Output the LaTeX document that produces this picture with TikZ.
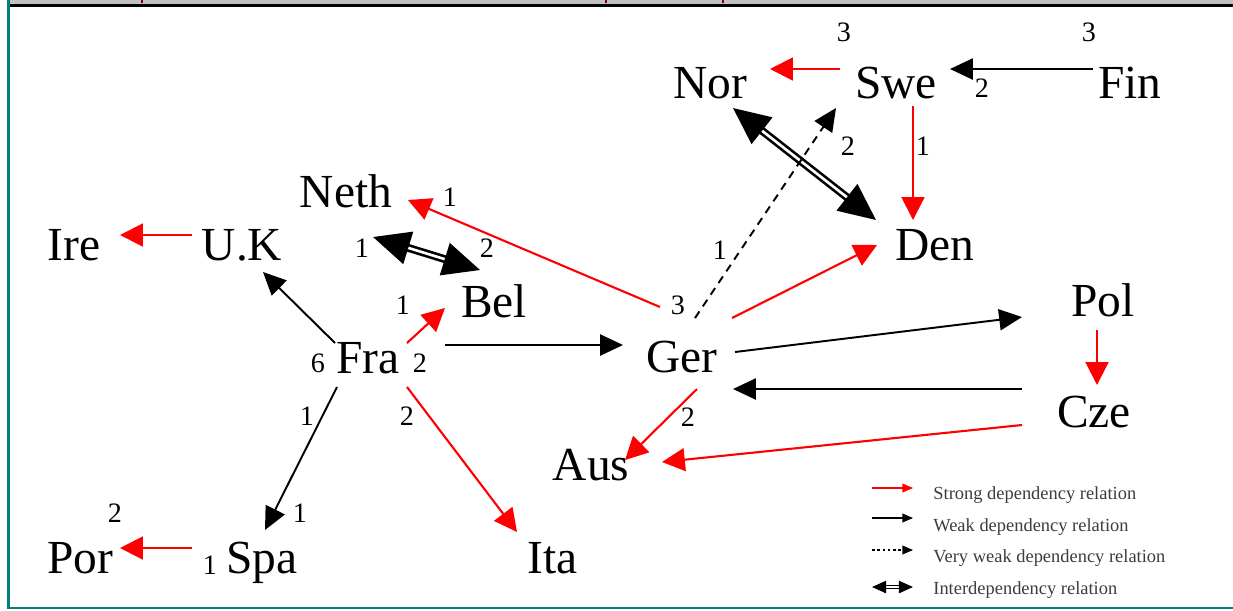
\documentclass[tikz,border=0pt]{standalone}
\usepackage{fontspec}
\setmainfont{Liberation Serif}
\usetikzlibrary{arrows.meta}
\definecolor{frameteal}{RGB}{0,128,128}
\definecolor{bargray}{RGB}{192,192,192}
\definecolor{tickred}{RGB}{128,0,0}
\definecolor{legendgray}{RGB}{60,60,60}
\tikzset{
  country/.style={font=\fontsize{27}{30}\selectfont, inner sep=0pt, anchor=base},
  num/.style={font=\fontsize{16}{18}\selectfont, inner sep=0pt},
  legtext/.style={font=\fontsize{10.5}{12}\selectfont, text=legendgray, inner sep=0pt, anchor=west},
  strong/.style={red, line width=1.2pt, -{Triangle[length=13pt,width=13pt]}},
  weak/.style={black, line width=1.1pt, -{Triangle[length=13pt,width=12pt]}},
  vweak/.style={weak, dash pattern=on 4.5pt off 3.5pt},
  inter/.style={double, line width=1.5pt, double distance=1.5pt, {Triangle[length=21pt,width=19pt]}-{Triangle[length=21pt,width=19pt]}},
}
\begin{document}
\begin{tikzpicture}[x=0.02cm,y=-0.02cm]
\useasboundingbox (0,0) rectangle (1233,610);
% frame
\fill[bargray] (9,0) rectangle (1233,4);
\fill[black] (7,3.5) rectangle (1233,6.5);
\fill[frameteal] (7,0) rectangle (9.5,609);
\fill[frameteal] (7,606.5) rectangle (1233,609);
\foreach \t in {142,606,723} \draw[tickred, line width=0.6pt] (\t,0) -- (\t,3);
% countries
\node[country] (nor) at (710,98) {Nor};
\node[country] (swe) at (896,98) {Swe};
\node[country] (fin) at (1130,98) {Fin};
\node[country] (neth) at (346,207) {Neth};
\node[country] (ire) at (74,260) {Ire};
\node[country] (uk) at (242,260) {U.K};
\node[country] (den) at (935,260) {Den};
\node[country] (bel) at (494,317) {Bel};
\node[country] (pol) at (1103,316) {Pol};
\node[country] (fra) at (368,373) {Fra};
\node[country] (ger) at (682,372) {Ger};
\node[country] (cze) at (1094,427) {Cze};
\node[country] (aus) at (591,480) {Aus};
\node[country] (por) at (80,573) {Por};
\node[country] (spa) at (262,573) {Spa};
\node[country] (ita) at (553,573) {Ita};
% relations
\draw[strong] ([shift={(-56,-29)}]swe.base) -- ([shift={(60,-29)}]nor.base);
\draw[weak] ([shift={(-37,-29)}]fin.base) -- ([shift={(54,-29)}]swe.base);
\draw[strong] ([shift={(17,8)}]swe.base) -- ([shift={(-22,-40)}]den.base);
\draw[inter] ([shift={(23,10)}]nor.base) -- ([shift={(-59,-40)}]den.base);
\draw[vweak] ([shift={(13,-54)}]ger.base) -- ([shift={(-60,10)}]swe.base);
\draw[strong] ([shift={(50,-54)}]ger.base) -- ([shift={(-58,-15)}]den.base);
\draw[strong] ([shift={(-22,-65)}]ger.base) -- ([shift={(62,-7)}]neth.base);
\draw[inter] ([shift={(27,30)}]neth.base) -- ([shift={(-14,-47)}]bel.base);
\draw[strong] ([shift={(39,-30)}]fra.base) -- ([shift={(-49,-9)}]bel.base);
\draw[weak] ([shift={(-33,-30)}]fra.base) -- ([shift={(21,12)}]uk.base);
\draw[weak] ([shift={(77,-28)}]fra.base) -- ([shift={(-59,-27)}]ger.base);
\draw[weak] ([shift={(53,-20)}]ger.base) -- ([shift={(-81,1)}]pol.base);
\draw[weak] ([shift={(-72,-38)}]cze.base) -- ([shift={(51,17)}]ger.base);
\draw[strong] ([shift={(-6,14)}]pol.base) -- ([shift={(3,-42)}]cze.base);
\draw[strong] ([shift={(-72,-2)}]cze.base) -- ([shift={(71,-18)}]aus.base);
\draw[strong] ([shift={(15,17)}]ger.base) -- ([shift={(34,-20)}]aus.base);
\draw[weak] ([shift={(-31,14)}]fra.base) -- ([shift={(3,-43)}]spa.base);
\draw[strong] ([shift={(39,14)}]fra.base) -- ([shift={(-36,-41)}]ita.base);
\draw[strong] ([shift={(-50,-25)}]uk.base) -- ([shift={(46,-25)}]ire.base);
\draw[strong] ([shift={(-70,-25)}]spa.base) -- ([shift={(40,-25)}]por.base);
% numbers
\node[num] (sweN) at (844,32) {3};
\node[num] (finN) at (1089,32) {3};
\node[num] (sweFin) at (982,88) {2};
\node[num] (sweGer) at (848,146) {2};
\node[num] (sweDen) at (923,146) {1};
\node[num] (nethGer) at (450,197) {1};
\node[num] (nethBel) at (362,248) {1};
\node[num] (belNeth) at (487,248) {2};
\node[num] (gerSwe) at (720,250) {1};
\node[num] (gerNeth) at (678,305) {3};
\node[num] (belFra) at (403,305) {1};
\node[num] (fraL) at (318,363) {6};
\node[num] (fraR) at (420,363) {2};
\node[num] (fraSpa) at (307,416) {1};
\node[num] (fraIta) at (407,416) {2};
\node[num] (gerAus) at (688,417) {2};
\node[num] (porN) at (115,513) {2};
\node[num] (spaFra) at (300,513) {1};
\node[num] (spaPor) at (210,565) {1};
% legend
\node[legtext] (lg1) at (933,495) {Strong dependency relation};
\node[legtext] (lg2) at (933,527) {Weak dependency relation};
\node[legtext] (lg3) at (933,558) {Very weak dependency relation};
\node[legtext] (lg4) at (933,590) {Interdependency relation};
\draw[strong, line width=0.6pt, -{Triangle[length=6pt,width=5pt]}] ([shift={(-61,-7)}]lg1.west) -- ([shift={(-20,-7)}]lg1.west);
\draw[weak, line width=0.6pt, -{Triangle[length=6pt,width=5pt]}] ([shift={(-61,-9)}]lg2.west) -- ([shift={(-20,-9)}]lg2.west);
\draw[weak, line width=0.6pt, dash pattern=on 1.5pt off 1.5pt, -{Triangle[length=6pt,width=5pt]}] ([shift={(-61,-8)}]lg3.west) -- ([shift={(-20,-8)}]lg3.west);
\draw[double, line width=0.8pt, double distance=0.6pt, {Triangle[length=8pt,width=7pt]}-{Triangle[length=8pt,width=7pt]}] ([shift={(-61,-3)}]lg4.west) -- ([shift={(-20,-3)}]lg4.west);
\end{tikzpicture}
\end{document}
